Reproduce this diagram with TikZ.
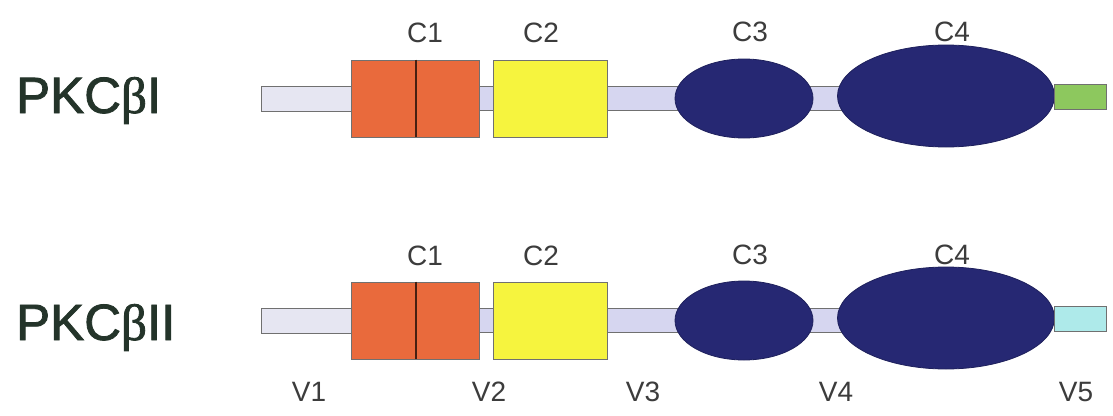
\documentclass[tikz,border=0pt]{standalone}
\usepackage{fontspec}
\setmainfont{Liberation Sans}
\newfontfamily\namefont[FakeBold=1.6]{Liberation Sans}
\newfontfamily\greekfont[FakeBold=1.6]{Liberation Serif}
\usetikzlibrary{shapes.geometric,backgrounds}

\definecolor{edgegray}{HTML}{707070}
\definecolor{termfill}{HTML}{E6E6F2}
\definecolor{linkfill}{HTML}{D6D6F0}
\definecolor{cone}{HTML}{E96A3C}
\definecolor{ctwo}{HTML}{F6F43E}
\definecolor{cdark}{HTML}{262873}
\definecolor{tailgreen}{HTML}{8DC85E}
\definecolor{tailcyan}{HTML}{AEEAEA}
\definecolor{namecol}{HTML}{24342A}
\definecolor{labcol}{HTML}{3C3C3C}

\tikzset{
  seg/.style={draw=edgegray, line width=0.8pt, inner sep=0pt, minimum height=25pt},
  cbox/.style={draw=edgegray, line width=0.8pt, inner sep=0pt, minimum height=77pt},
  lobe/.style={ellipse, draw=cdark!80!black, fill=cdark, line width=0.8pt, inner sep=0pt},
  linker/.style={draw=edgegray, line width=0.8pt, double=linkfill, double distance=23.4pt},
  divider/.style={draw=black!70!cone, line width=1.2pt},
  domlab/.style={font=\fontsize{28}{30}\selectfont, text=labcol, inner sep=0pt},
  isoname/.style={font=\namefont\fontsize{51}{54}\selectfont, text=namecol, inner sep=0pt, anchor=base west}
}

% one isoform: #1 name prefix, #2 axis height, #3 C-terminal colour
\newcommand\isoform[3]{%
  \node[seg, fill=termfill, minimum width=91pt] (#1v1) at (306.5,#2) {};
  \node[cbox, fill=cone, minimum width=128pt] (#1c1) at (415,#2) {};
  \draw[divider] ([xshift=1pt]#1c1.north) -- ([xshift=1pt]#1c1.south);
  \node[cbox, fill=ctwo, minimum width=114pt] (#1c2) at (550,#2) {};
  \node[lobe, minimum width=138pt, minimum height=79pt] (#1c3) at (744,#2) {};
  \node[lobe, minimum width=217pt, minimum height=102pt] (#1c4) at (946,#2-2.5) {};
  \node[seg, fill=#3, minimum width=52pt, anchor=west] (#1v5) at (1054,#2-1.5) {};
  \begin{scope}[on background layer]
    \draw[linker] (#1c1.east) -- (#1c2.west);
    \draw[linker] (#1c2.east) -- (#1c3.center);
    \draw[linker] (#1c3.center) -- (#1c4.center |- #1c3.center);
  \end{scope}
}

\begin{document}
\begin{tikzpicture}[x=1pt, y=-1pt]
  \useasboundingbox (0,0) rectangle (1113,415);
  \begin{scope}[on background layer]
    \fill[white] (0,0) rectangle (1113,415);
  \end{scope}

  % PKC beta I
  \isoform{a}{98.5}{tailgreen}
  \node[isoname] (nameA) at (16,113) {PKC{\greekfont β}I};
  \node[domlab] (aC1) at (425,33) {C1};
  \node[domlab] (aC2) at (541,33) {C2};
  \node[domlab] (aC3) at (750,32) {C3};
  \node[domlab] (aC4) at (952,32) {C4};

  % PKC beta II
  \isoform{b}{320.5}{tailcyan}
  \node[isoname] (nameB) at (16,340) {PKC{\greekfont β}II};
  \node[domlab] (bC1) at (425,256) {C1};
  \node[domlab] (bC2) at (541,256) {C2};
  \node[domlab] (bC3) at (750,255) {C3};
  \node[domlab] (bC4) at (952,255) {C4};

  % variable regions
  \node[domlab] (V1) at (309,392) {V1};
  \node[domlab] (V2) at (489,392) {V2};
  \node[domlab] (V3) at (643,392) {V3};
  \node[domlab] (V4) at (836,392) {V4};
  \node[domlab] (V5) at (1076,392) {V5};
\end{tikzpicture}
\end{document}
